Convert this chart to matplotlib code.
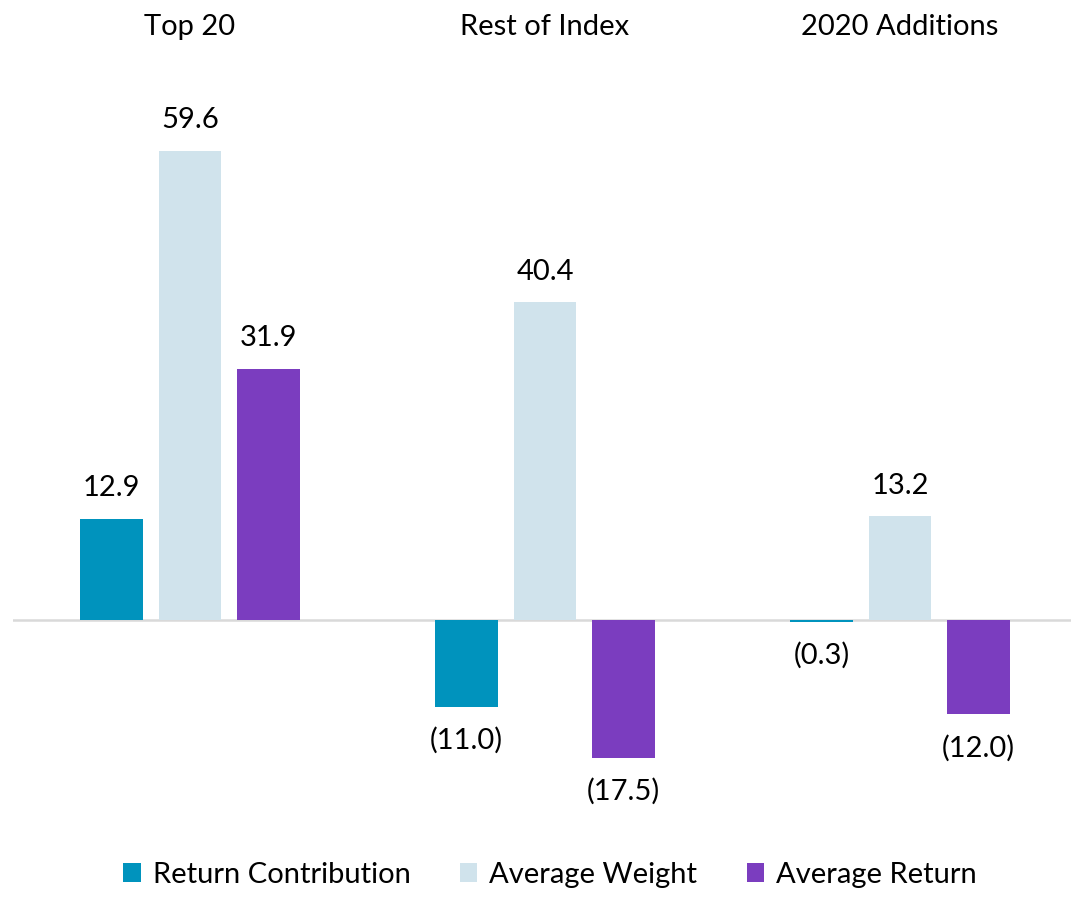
import matplotlib
matplotlib.use("Agg")
from matplotlib import pyplot as plt
from matplotlib.transforms import blended_transform_factory
import numpy as np

groups = ["Top 20", "Rest of Index", "2020 Additions"]
series = ["Return Contribution", "Average Weight", "Average Return"]
return_contribution = [12.9, -11.0, -0.3]
average_weight = [59.6, 40.4, 13.2]
average_return = [31.9, -17.5, -12.0]
colors = ["#0093BD", "#D0E3EC", "#7B3DBF"]

plt.rcParams['font.family'] = ['Lato', 'DejaVu Sans']

fig = plt.figure(figsize=(10.71, 9.18), dpi=100)
ax = fig.add_axes([12.5 / 1071, 78 / 918, 1065 / 1071, 780 / 918])

x = np.arange(len(groups))
step = 0.221
width = 0.175

def fmt(v):
    return "(%.1f)" % abs(v) if v < 0 else "%.1f" % v

for i, (vals, col, name) in enumerate(zip([return_contribution, average_weight, average_return], colors, series)):
    xs = x + (i - 1) * step
    ax.bar(xs, vals, width, color=col, label=name)
    for xx, v in zip(xs, vals):
        off = 22 if v >= 0 else -24
        ax.annotate(fmt(v), xy=(xx, v), xytext=(0, off), textcoords='offset points',
                    ha='center', va='center', fontsize=21, color='black')

ax.axhline(0, color='#D9D9D9', linewidth=1.8, zorder=0)
ax.set_xlim(-0.5, 2.5)
ax.set_ylim(-27.95, 71.16)
ax.axis('off')

trans = blended_transform_factory(ax.transData, fig.transFigure)
for xx, g in zip(x, groups):
    ax.text(xx, 1 - 27 / 918, g, transform=trans, ha='center', va='center', fontsize=21)

fig.legend(loc='center', bbox_to_anchor=(550 / 1071, 1 - 875 / 918), ncol=3, frameon=False,
           fontsize=21, handlelength=0.6, handleheight=0.6, handletextpad=0.4, columnspacing=1.7)

fig.savefig("out.png", dpi=100)
